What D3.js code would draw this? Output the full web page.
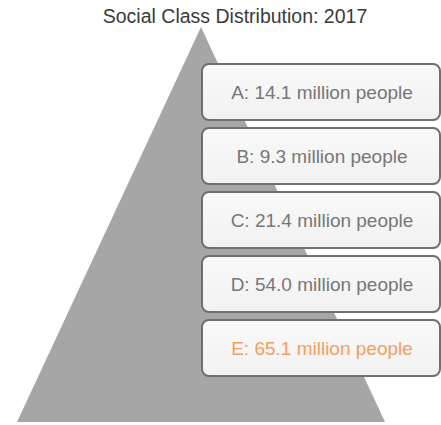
<!DOCTYPE html>
<html>
<head>
<meta charset="utf-8">
<script src="https://cdn.jsdelivr.net/npm/d3@7"></script>
<style>
  html, body { margin: 0; padding: 0; background: #fff; }
  svg { display: block; font-family: "Liberation Sans", Arial, sans-serif; }
</style>
</head>
<body>
<svg id="chart" width="441" height="425"></svg>
<script>
const title = "Social Class Distribution: 2017";
const classes = ["A", "B", "C", "D", "E"];
const values = [14.1, 9.3, 21.4, 54.0, 65.1];
const unit = "million people";
const highlight = ["E"];

const W = 441, H = 425;
const svg = d3.select("#chart");

const defs = svg.append("defs");
const grad = defs.append("linearGradient").attr("id", "boxFill")
  .attr("x1", 0).attr("y1", 0).attr("x2", 0).attr("y2", 1);
grad.append("stop").attr("offset", "0%").attr("stop-color", "#fafafa");
grad.append("stop").attr("offset", "100%").attr("stop-color", "#f1f1f1");

// pyramid
const py = d3.scaleLinear().domain([0, 1]).range([27, 422]);
const px = d3.scaleLinear().domain([-1, 1]).range([17, 385]);
const tri = [[0, 0], [-1, 1], [1, 1]];
svg.append("path")
  .attr("d", d3.line().x(d => px(d[0])).y(d => py(d[1])).curve(d3.curveLinearClosed)(tri))
  .attr("fill", "#a6a6a6");

// title
svg.append("text")
  .attr("x", 235).attr("y", 23)
  .attr("text-anchor", "middle")
  .attr("font-size", 19.5)
  .attr("fill", "#3a3a3a")
  .text(title);

// boxes
const y = d3.scaleBand().domain(classes).range([64, 376]).paddingInner(0.125).paddingOuter(0);
const x0 = 202, x1 = 440;
const g = svg.append("g").selectAll("g").data(classes).join("g");
g.append("rect")
  .attr("x", x0).attr("y", d => y(d))
  .attr("width", x1 - x0).attr("height", y.bandwidth())
  .attr("rx", 7).attr("ry", 7)
  .attr("fill", "url(#boxFill)")
  .attr("stroke", "#6f6f6f").attr("stroke-width", 2);
g.append("text")
  .attr("x", (x0 + x1) / 2 + 1)
  .attr("y", d => y(d) + y.bandwidth() / 2 + 7)
  .attr("text-anchor", "middle")
  .attr("font-size", 19)
  .attr("fill", d => highlight.includes(d) ? "#f0a062" : "#777777")
  .text((d, i) => `${d}: ${values[i].toFixed(1)} ${unit}`);
</script>
</body>
</html>
